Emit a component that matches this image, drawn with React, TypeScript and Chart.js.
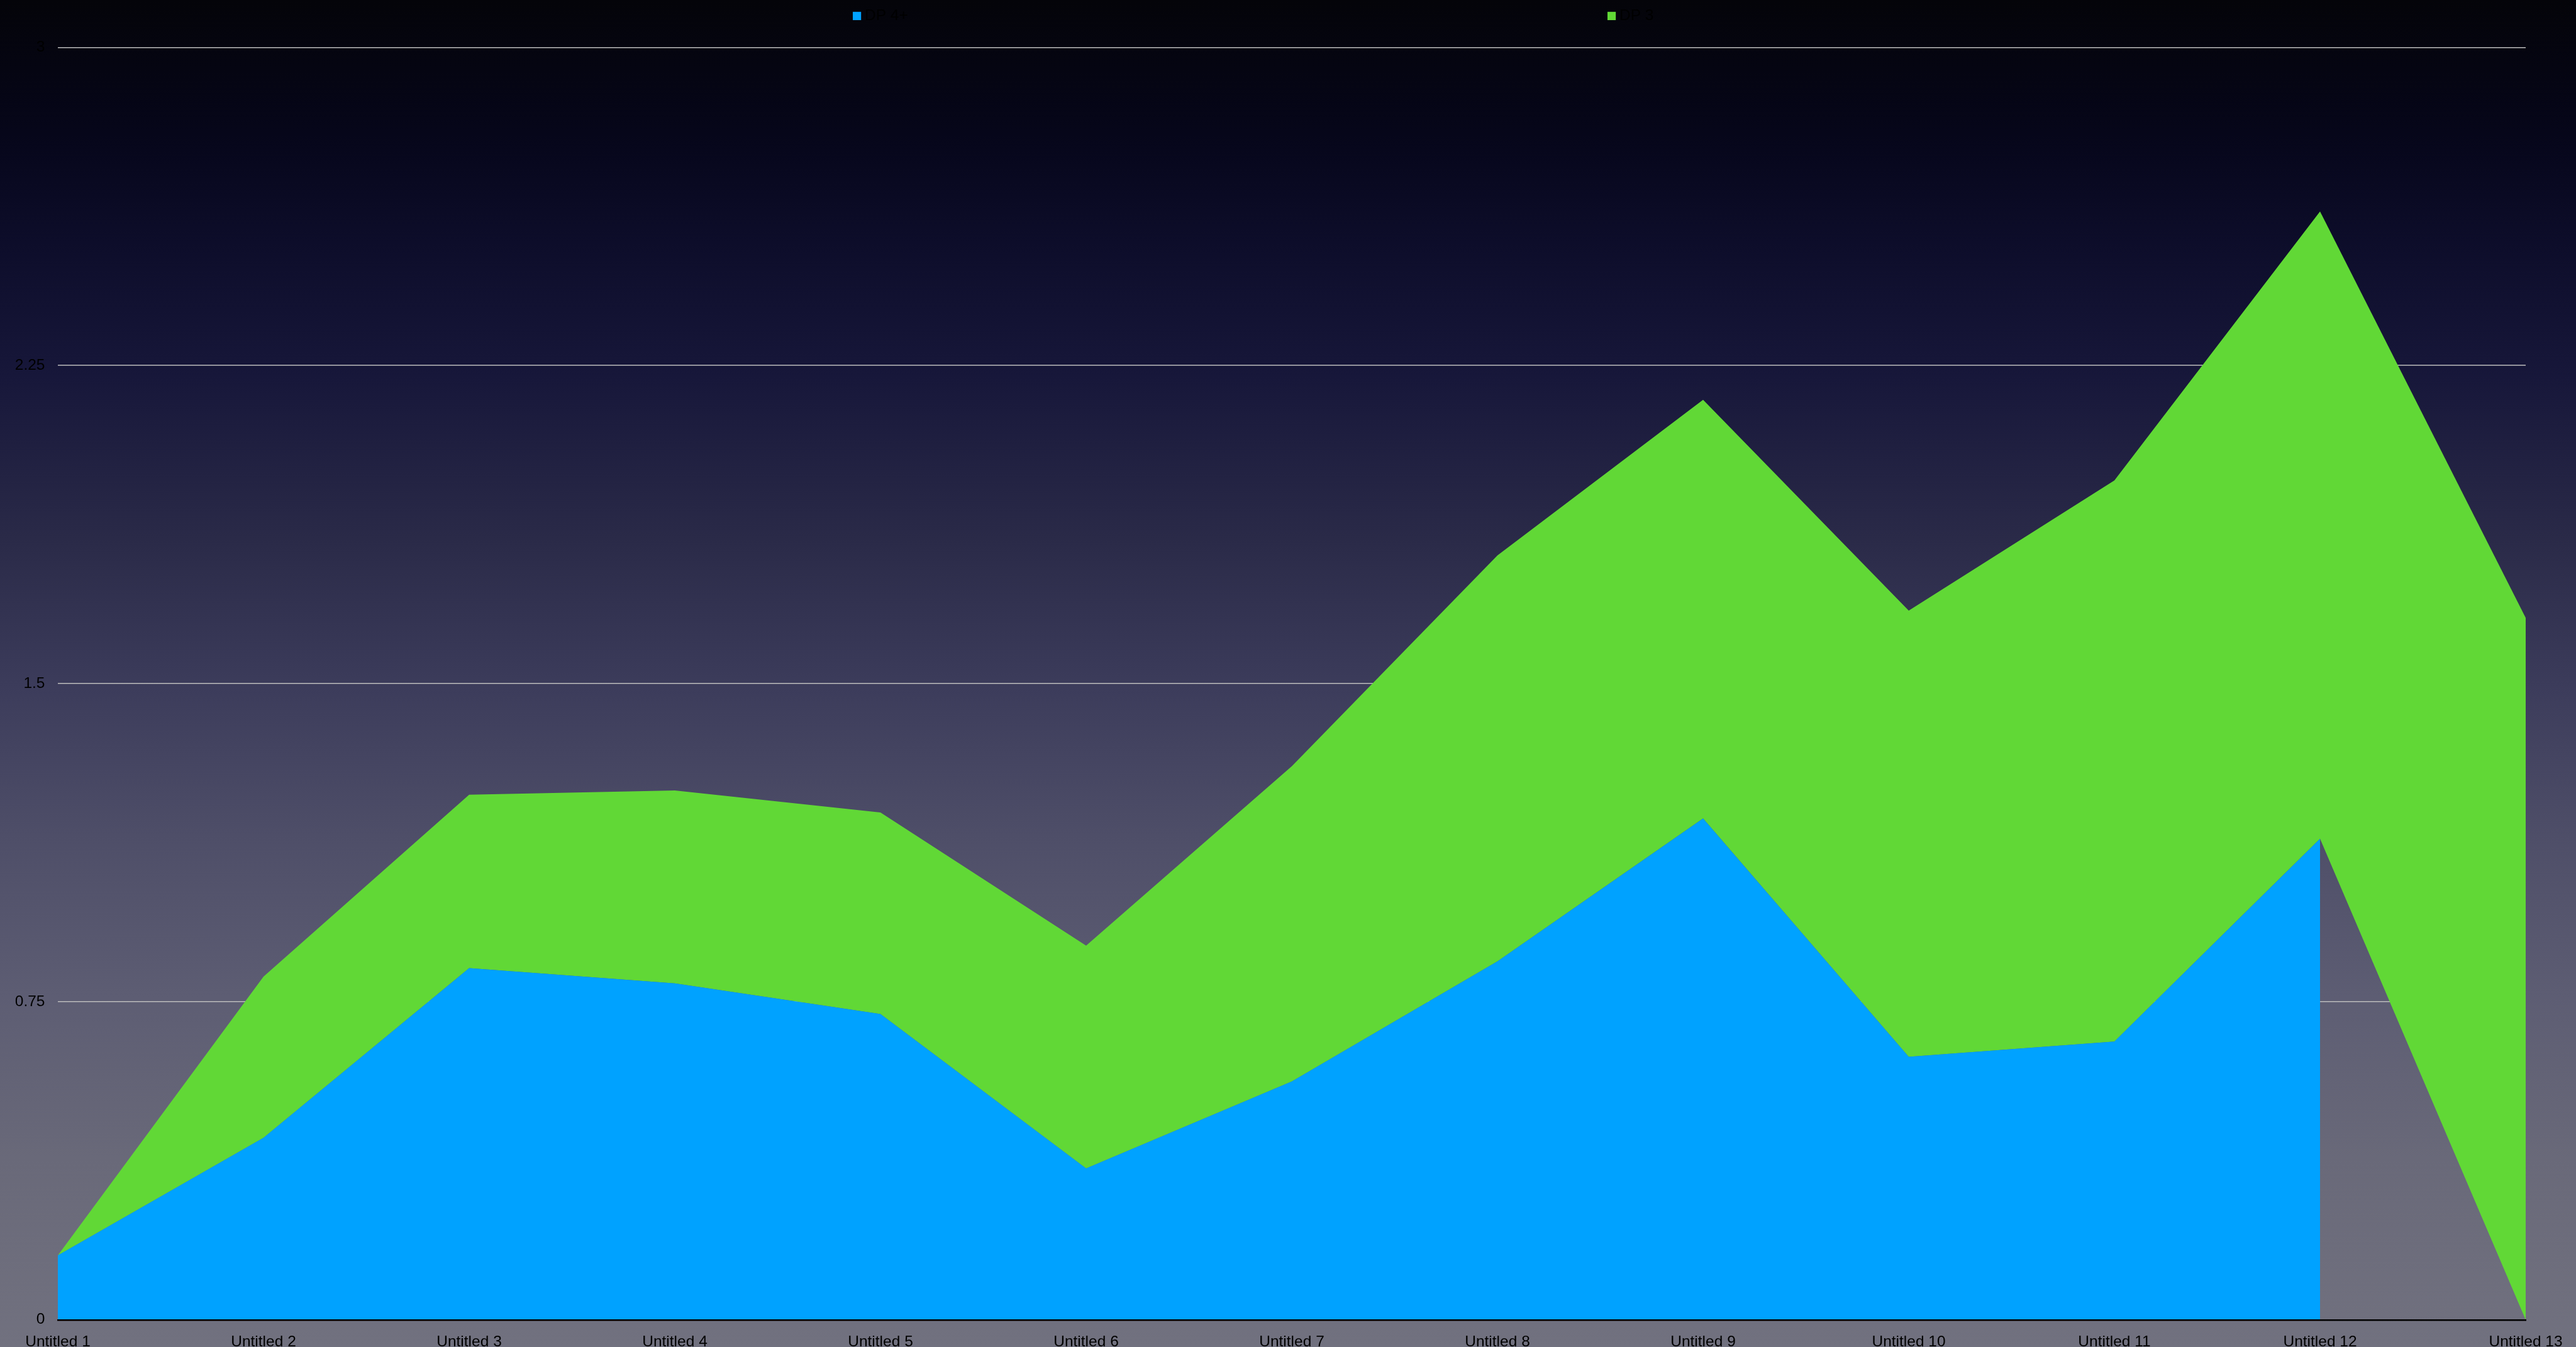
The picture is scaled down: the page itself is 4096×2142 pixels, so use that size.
import { useEffect, useRef } from 'react';
import { Chart, registerables } from 'chart.js';

Chart.register(...registerables);

// ---- data ----
const CATEGORIES = [
  'Untitled 1', 'Untitled 2', 'Untitled 3', 'Untitled 4', 'Untitled 5', 'Untitled 6', 'Untitled 7',
  'Untitled 8', 'Untitled 9', 'Untitled 10', 'Untitled 11', 'Untitled 12', 'Untitled 13',
];
const DP4_PLUS: (number | null)[] = [0.152, 0.429, 0.829, 0.793, 0.721, 0.357, 0.562, 0.845, 1.182, 0.62, 0.656, 1.134, null];
const DP3: number[] = [0, 0.38, 0.409, 0.455, 0.475, 0.525, 0.743, 0.957, 0.987, 1.052, 1.323, 1.479, 1.655];
const SERIES_NAMES = ['DP 4+', 'DP 3'];
const SERIES_COLORS = ['#00A2FF', '#61D836'];
const Y_TICKS = [0, 0.75, 1.5, 2.25, 3];

// ---- layout / style (output pixels) ----
const W = 4096;
const H = 2142;
const FONT = '"Liberation Sans", Arial, Helvetica, sans-serif';
const FONT_SIZE = 24.5;
const LEGEND_X = [1356, 2556];

const legendPlugin = {
  id: 'manualLegend',
  afterDraw(chart: any) {
    const ctx = chart.ctx as CanvasRenderingContext2D;
    ctx.save();
    ctx.font = `${FONT_SIZE}px ${FONT}`;
    ctx.textBaseline = 'middle';
    ctx.textAlign = 'left';
    LEGEND_X.forEach((x, i) => {
      ctx.fillStyle = SERIES_COLORS[i];
      ctx.fillRect(x, 18.8, 13.2, 13.2);
      ctx.fillStyle = '#000000';
      ctx.fillText(SERIES_NAMES[i], x + 19, 25.2);
    });
    ctx.restore();
  },
};

export default function App() {
  const ref = useRef<HTMLCanvasElement>(null);

  useEffect(() => {
    document.body.style.margin = '0';
    const chart = new Chart(ref.current as HTMLCanvasElement, {
      type: 'line',
      data: {
        labels: CATEGORIES,
        datasets: [
          {
            label: SERIES_NAMES[0],
            data: DP4_PLUS.map((v) => (v == null ? 0 : v)),
            backgroundColor: SERIES_COLORS[0],
            borderColor: 'rgba(0,0,0,0)',
            borderWidth: 0,
            pointRadius: 0,
            fill: 'origin',
            tension: 0,
            segment: {
              backgroundColor: (c: any) =>
                DP4_PLUS[c.p1DataIndex] == null ? 'rgba(0,0,0,0)' : SERIES_COLORS[0],
            },
          },
          {
            label: SERIES_NAMES[1],
            data: DP3,
            backgroundColor: SERIES_COLORS[1],
            borderColor: 'rgba(0,0,0,0)',
            borderWidth: 0,
            pointRadius: 0,
            fill: '-1',
            tension: 0,
          },
        ],
      },
      options: {
        animation: false,
        responsive: false,
        devicePixelRatio: 1,
        layout: { padding: { left: 24.5, right: 80, top: 75.3, bottom: 0 } },
        plugins: {
          legend: { display: false },
          tooltip: { enabled: false },
        },
        scales: {
          x: {
            grid: { display: false },
            border: { display: true, color: '#000000', width: 2.4, z: 1 },
            ticks: {
              color: '#000000',
              font: { family: FONT, size: FONT_SIZE },
              padding: 13,
              maxRotation: 0,
              autoSkip: false,
            },
            afterFit: (s: any) => {
              s.height = 43.3;
            },
          },
          y: {
            stacked: true,
            min: Y_TICKS[0],
            max: Y_TICKS[Y_TICKS.length - 1],
            grid: { color: '#bdbdbd', lineWidth: 1.6, drawTicks: false },
            border: { display: false },
            ticks: {
              stepSize: Y_TICKS[1] - Y_TICKS[0],
              color: '#000000',
              font: { family: FONT, size: FONT_SIZE },
              padding: 20.5,
              callback: (v: any) => String(Number(Number(v).toFixed(2))),
            },
            afterFit: (s: any) => {
              s.width = 67.5;
            },
          },
        },
      },
      plugins: [legendPlugin],
    });
    return () => chart.destroy();
  }, []);

  return (
    <div
      style={{
        position: 'fixed',
        left: 0,
        top: 0,
        width: W,
        height: H,
        background:
          'linear-gradient(180deg, #040409 0%, #06061a 10%, #0d0d2a 18%, #17173a 28%, #2a2a48 40%, #3c3c5b 51%, #4e4e68 62%, #5d5d73 74%, #696979 86%, #71717f 100%)',
      }}
    >
      <canvas ref={ref} width={W} height={H} style={{ display: 'block', width: W, height: H }} />
    </div>
  );
}
